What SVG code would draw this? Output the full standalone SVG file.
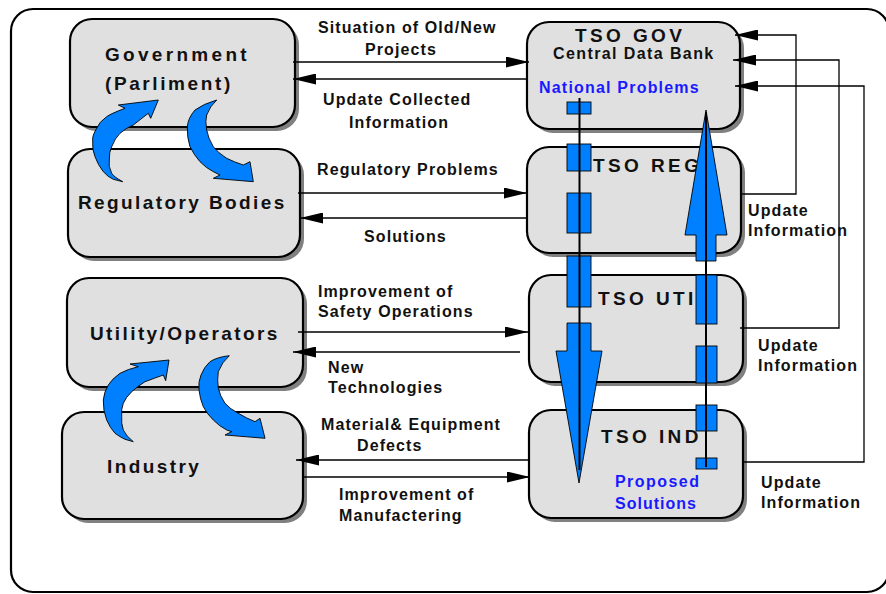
<svg xmlns="http://www.w3.org/2000/svg" width="886" height="594" viewBox="0 0 886 594">
  <style>
    .box { fill: #e0e0e0; stroke: #000; stroke-width: 2.2; }
    .shadow { fill: #808080; }
    .t { font-family: "Liberation Sans", Arial, sans-serif; font-weight: bold; fill: #111; }
    .big { font-size: 19px; letter-spacing: 2.4px; }
    .tso { font-size: 19px; letter-spacing: 3.4px; }
    .lbl { font-size: 16px; letter-spacing: 1.1px; }
    .blue { fill: #1a1aff; }
    .link { fill: none; stroke: #000; stroke-width: 1.5; marker-end: url(#head); }
    .feed { fill: none; stroke: #000; stroke-width: 1.3; marker-end: url(#head); }
    .flow { fill: #0080ff; stroke: #000; stroke-width: 0.9; }
    .axis { stroke: #000; stroke-width: 2; }
  </style>
  <defs>
    <marker id="head" markerUnits="userSpaceOnUse" viewBox="0 0 23 11" markerWidth="23" markerHeight="11" refX="23" refY="5.5" orient="auto">
      <path d="M0,0 L23,5.5 L0,11 z" fill="#000"/>
    </marker>
  </defs>

  <rect x="0" y="0" width="886" height="594" fill="#fff"/>
  <!-- outer frame -->
  <rect x="11" y="9" width="878" height="583" rx="22" fill="none" stroke="#000" stroke-width="2.2"/>

  <!-- left column -->
  <g id="government">
    <rect class="shadow" x="74" y="23" width="225" height="108" rx="22"/>
    <rect class="box" x="70" y="19" width="225" height="108" rx="22"/>
    <text class="t big" x="105" y="61" style="letter-spacing:3.3px">Government</text>
    <text class="t big" x="105" y="90" style="letter-spacing:2.6px">(Parliment)</text>
  </g>
  <g id="regulatory">
    <rect class="shadow" x="72" y="153" width="232" height="108" rx="22"/>
    <rect class="box" x="68" y="149" width="232" height="108" rx="22"/>
    <text class="t big" x="78" y="209">Regulatory Bodies</text>
  </g>
  <g id="utility">
    <rect class="shadow" x="71" y="282" width="236" height="109" rx="22"/>
    <rect class="box" x="67" y="278" width="236" height="109" rx="22"/>
    <text class="t big" x="90" y="340">Utility/Operators</text>
  </g>
  <g id="industry">
    <rect class="shadow" x="66" y="416" width="241" height="107" rx="22"/>
    <rect class="box" x="62" y="412" width="241" height="107" rx="22"/>
    <text class="t big" x="107" y="473">Industry</text>
  </g>

  <!-- right column -->
  <g id="tso-gov">
    <rect class="shadow" x="531" y="26" width="213" height="107" rx="22"/>
    <rect class="box" x="527" y="22" width="213" height="107" rx="22"/>
    <text class="t tso" x="575" y="42">TSO GOV</text>
    <text class="t lbl" x="553" y="59" style="letter-spacing:1.4px">Central Data Bank</text>
    <text class="t lbl blue" x="539" y="93" style="letter-spacing:1.2px">National Problems</text>
  </g>
  <g id="tso-reg">
    <rect class="shadow" x="531" y="151" width="214" height="106" rx="22"/>
    <rect class="box" x="527" y="147" width="214" height="106" rx="22"/>
    <text class="t tso" x="593" y="172">TSO REG</text>
  </g>
  <g id="tso-uti">
    <rect class="shadow" x="533" y="279" width="214" height="107" rx="22"/>
    <rect class="box" x="529" y="275" width="214" height="107" rx="22"/>
    <text class="t tso" x="598" y="305">TSO UTI</text>
  </g>
  <g id="tso-ind">
    <rect class="shadow" x="533" y="414" width="214" height="108" rx="22"/>
    <rect class="box" x="529" y="410" width="214" height="108" rx="22"/>
    <text class="t tso" x="601" y="443">TSO IND</text>
    <text class="t lbl blue" x="615" y="487" style="letter-spacing:1.45px">Proposed</text>
    <text class="t lbl blue" x="615" y="509" style="letter-spacing:1px">Solutions</text>
  </g>

  <!-- connectors -->
  <g id="connectors">
    <line class="link" x1="293" y1="62" x2="529" y2="62"/>
    <line class="link" x1="527" y1="79" x2="293" y2="79"/>
    <line class="link" x1="298" y1="193" x2="527" y2="193"/>
    <line class="link" x1="527" y1="218" x2="300" y2="218"/>
    <line class="link" x1="298" y1="332" x2="528" y2="332"/>
    <line class="link" x1="520" y1="352" x2="293" y2="352"/>
    <line class="link" x1="528" y1="460" x2="296" y2="460"/>
    <line class="link" x1="303" y1="477" x2="530" y2="477"/>

    <polyline class="feed" points="741,194 796,194 796,35 735,35"/>
    <polyline class="feed" points="740,328 839,328 839,60 733,60"/>
    <polyline class="feed" points="744,462 864,462 864,86 735,86"/>

    <text class="t lbl" x="318" y="33">Situation of Old/New</text>
    <text class="t lbl" x="365" y="55">Projects</text>
    <text class="t lbl" x="323" y="105">Update Collected</text>
    <text class="t lbl" x="349" y="128">Information</text>
    <text class="t lbl" x="317" y="175">Regulatory Problems</text>
    <text class="t lbl" x="364" y="242">Solutions</text>
    <text class="t lbl" x="318" y="297">Improvement of</text>
    <text class="t lbl" x="318" y="317">Safety Operations</text>
    <text class="t lbl" x="328" y="373">New</text>
    <text class="t lbl" x="328" y="393">Technologies</text>
    <text class="t lbl" x="321" y="430">Material&amp; Equipment</text>
    <text class="t lbl" x="357" y="451">Defects</text>
    <text class="t lbl" x="339" y="500">Improvement of</text>
    <text class="t lbl" x="339" y="521">Manufactering</text>

    <text class="t lbl" x="748" y="216">Update</text>
    <text class="t lbl" x="748" y="236">Information</text>
    <text class="t lbl" x="758" y="351">Update</text>
    <text class="t lbl" x="758" y="371">Information</text>
    <text class="t lbl" x="761" y="488">Update</text>
    <text class="t lbl" x="761" y="508">Information</text>
  </g>

  <!-- curved exchange arrows between left-hand bodies -->
  <g id="cycle-upper">
    <path class="flow" d="M158.3,100 L118.3,105 L125,108.3 Q110,114 106.7,116.7 Q99,122 96.7,128.3 Q92,136 92.7,140 Q92,150 95,156.7 Q98,165 103.3,171.7 Q108,177 113.3,179.3 L122.7,181.7 Q114,177 111.7,173.3 Q108,166 109.3,160 Q109,152 111.7,146.7 Q115,138 120,133.3 Q126,128 133.3,125 Q141,119 148.3,113.3 L150.7,118.3 Z"/>
    <path class="flow" d="M216.7,100 Q203,104 195,110 Q188,118 187.3,126.7 Q187,138 190,146.7 Q194,155 200,161.7 Q206,168 213.3,171.7 L220,175 L213.3,178.3 L253.3,181.7 L250,161.7 L243.3,165 Q234,162 226.7,158.3 Q218,153 213.3,146.7 Q208,138 206.7,130 Q205,121 206.7,115 Q210,106 216.7,100 Z"/>
  </g>
  <g id="cycle-lower">
    <path class="flow" d="M169,360 L130,364 L138.3,366.7 Q128,369 120,373.3 Q112,379 108.3,385 Q104,392 103.3,400 Q103,411 106.7,420 Q110,428 115,433.3 Q120,437 125,439.3 L133.3,441.7 Q126,436 123.3,430 Q121,423 121.7,416.7 Q121,409 123.3,403.3 Q126,397 131.7,391.7 Q138,386 145,381.7 Q155,378 163.3,375 L165.7,380.7 Z"/>
    <path class="flow" d="M229.3,355.7 Q217,357 210,361.7 Q204,367 201,375 Q198,382 199,390 Q200,399 203.3,406.7 Q207,414 213.3,420 Q219,426 226.7,430 L231.7,431.7 L225,435 L265,438.3 L260,418.3 L255,421.7 Q246,418 238.3,413.3 Q230,409 225,403.3 Q220,396 218.3,388.3 Q217,380 218.3,371.7 Q222,362 229.3,355.7 Z"/>
  </g>

  <!-- dashed flow from central data bank down to proposed solutions -->
  <g id="flow-down">
    <rect class="flow" x="567" y="102" width="24" height="12"/>
    <rect class="flow" x="567" y="144" width="24" height="27"/>
    <rect class="flow" x="567" y="193" width="24" height="40"/>
    <rect class="flow" x="567" y="256" width="24" height="51"/>
    <polygon class="flow" points="567,323 591,323 591,351 602,351 579,483 556,351 567,351"/>
    <line class="axis" x1="579.5" y1="98" x2="579.5" y2="470"/>
  </g>

  <!-- dashed flow from industry back up to central data bank -->
  <g id="flow-up">
    <polygon class="flow" points="706,110 727,235 716,235 716,261 696,261 696,235 685,235"/>
    <rect class="flow" x="696" y="275" width="21" height="49"/>
    <rect class="flow" x="696" y="346" width="21" height="37"/>
    <rect class="flow" x="696" y="405" width="21" height="26"/>
    <rect class="flow" x="696" y="458" width="21" height="11"/>
    <line class="axis" x1="706" y1="112" x2="706" y2="467"/>
  </g>
</svg>
